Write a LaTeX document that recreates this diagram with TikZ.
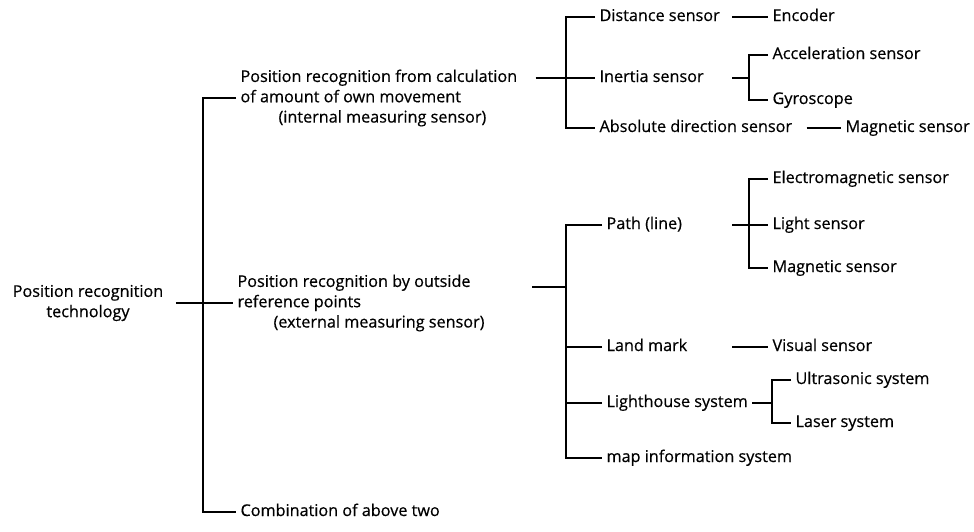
\documentclass[tikz,border=0pt]{standalone}
\usepackage{fontspec}
\setmainfont{Open Sans}[FakeBold=0.5]
\usepackage{tikz}

\begin{document}
\begin{tikzpicture}[x=1pt, y=-1pt, line width=1.1pt,
        item/.style={anchor=west, inner xsep=4pt, inner ysep=2pt, text height=11pt, text depth=3pt, font=\fontsize{16.2}{20}\selectfont},
        multi/.style={anchor=west, inner xsep=4pt, align=left, font=\fontsize{16.2}{20.3}\selectfont}]
        \useasboundingbox[fill=white] (0,0) rectangle (974,531);

        % root
        \node[multi, align=center, anchor=center] (root) at (88,303) {Position recognition\\technology};

        % first level
        \node[multi] (own) at (236,98) {Position recognition from calculation\\of amount of own movement\\\hspace*{38pt}(internal measuring sensor)};
        \node[multi] (outside) at (233,303) {Position recognition by outside\\reference points\\\hspace*{36pt}(external measuring sensor)};
        \node[item] (combo) at (236,512) {Combination of above two};
        \coordinate (bar) at (203,0);
        \draw ([xshift=8pt]root.east) -- (outside.west);
        \draw (own.west) -- (bar |- own.west) -- (bar |- combo) -- (combo.west);

        % internal sensors
        \coordinate (bus) at (566,0);
        \coordinate (col) at (732,0);
        \node[item] (dist) at (595,17) {Distance sensor};
        \node[item] (inertia) at (595,78) {Inertia sensor};
        \node[item] (absdir) at (595,128) {Absolute direction sensor};
        \draw ([xshift=14pt]own.east |- inertia) -- (inertia.west);
        \draw (dist.west) -- (bus |- dist) -- (bus |- absdir) -- (absdir.west);

        \node[item] (enc) at (768,17) {Encoder};
        \draw (col |- enc) -- (enc.west);

        \node[item] (accel) at (768,55) {Acceleration sensor};
        \node[item] (gyro) at (768,100) {Gyroscope};
        \coordinate (busI) at (749,0);
        \draw (col |- inertia) -- (busI |- inertia);
        \draw (accel.west) -- (busI |- accel) -- (busI |- gyro) -- (gyro.west);

        \node[item] (magA) at (841,128) {Magnetic sensor};
        \draw ([xshift=10pt]absdir.east) -- (magA.west);

        % external sensors
        \coordinate (ext) at (532,287);
        \node[item] (path) at (602,225) {Path (line)};
        \node[item] (land) at (602,347) {Land mark};
        \node[item] (light) at (602,403) {Lighthouse system};
        \node[item] (map) at (602,458) {map information system};
        \draw (ext) -- (bus |- ext);
        \draw (path.west) -- (bus |- path) -- (bus |- map) -- (map.west);
        \draw (land.west) -- (bus |- land);
        \draw (light.west) -- (bus |- light);

        \node[item] (emag) at (768,179) {Electromagnetic sensor};
        \node[item] (lsen) at (768,225) {Light sensor};
        \node[item] (magB) at (768,268) {Magnetic sensor};
        \coordinate (busP) at (749,0);
        \draw (col |- path) -- (lsen.west);
        \draw (emag.west) -- (busP |- emag) -- (busP |- magB) -- (magB.west);

        \node[item] (visual) at (768,347) {Visual sensor};
        \draw (col |- land) -- (visual.west);

        \node[item] (ultra) at (791,380) {Ultrasonic system};
        \node[item] (laser) at (791,423) {Laser system};
        \coordinate (busL) at (772,0);
        \draw (light.east) -- (busL |- light);
        \draw (ultra.west) -- (busL |- ultra) -- (busL |- laser) -- (laser.west);
\end{tikzpicture}
\end{document}
